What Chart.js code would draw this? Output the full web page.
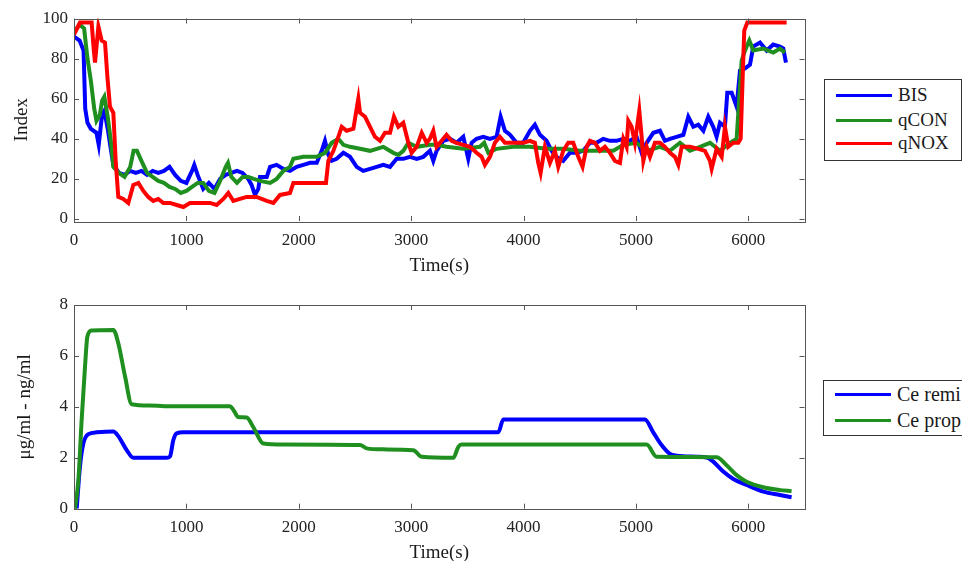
<!DOCTYPE html>
<html>
<head>
<meta charset="utf-8">
<script src="https://cdn.jsdelivr.net/npm/chart.js@4.4.1/dist/chart.umd.min.js"></script>
<style>
  body { margin: 0; background: #fff; overflow: hidden; }
  #page { position: relative; width: 962px; height: 561px; overflow: hidden; font-family: 'Liberation Serif', 'Times New Roman', serif; color: #1a1a1a; }
  canvas { position: absolute; left: 0; top: 0; }
  .legend { position: absolute; border: 1px solid #333; background: #fff; }
  .row { position: absolute; left: 0; height: 22px; white-space: nowrap; font-size: 19px; line-height: 22px; }
  .row span.sw { position: absolute; left: 11px; top: 10px; width: 56px; height: 3px; }
  .row span.tx { position: absolute; left: 73px; top: 0; }
</style>
</head>
<body>
<div id="page">
  <canvas id="topChart" width="962" height="561"></canvas>
  <canvas id="bottomChart" width="962" height="600"></canvas>

  <div class="legend" style="left:824px; top:79px; width:136px; height:80px;">
    <div class="row" style="top:4px;"><span class="sw" style="background:#0000ff"></span><span class="tx">BIS</span></div>
    <div class="row" style="top:29px;"><span class="sw" style="background:#1f8f1f"></span><span class="tx">qCON</span></div>
    <div class="row" style="top:52px;"><span class="sw" style="background:#ff0000"></span><span class="tx">qNOX</span></div>
  </div>
  <div class="legend" style="left:823px; top:380px; width:160px; height:54px;">
    <div class="row" style="top:2px; font-size:20px;"><span class="sw" style="background:#0000ff"></span><span class="tx">Ce remi</span></div>
    <div class="row" style="top:28px; font-size:20px;"><span class="sw" style="background:#1f8f1f"></span><span class="tx">Ce prop</span></div>
  </div>
</div>

<script>
// Axis ticks
const xTicks = [0, 1000, 2000, 3000, 4000, 5000, 6000];
const indexTicks = [0, 20, 40, 60, 80, 100];
const concTicks = [0, 2, 4, 6, 8];

// Top plot: BIS
const bisTime = [0, 50, 85, 100, 120, 150, 200, 220, 250, 270, 300, 330, 350, 400, 450, 500, 550, 600, 650, 700,
  750, 800, 850, 900, 950, 1000, 1050, 1070, 1100, 1150, 1200, 1250, 1300, 1350, 1400, 1450, 1500, 1550, 1580, 1610,
  1640, 1655, 1715, 1745, 1803, 1863, 1922, 1981, 2041, 2100, 2160, 2204, 2233, 2263, 2293, 2337, 2397, 2456, 2515, 2574,
  2634, 2693, 2752, 2812, 2871, 2930, 2990, 3049, 3108, 3167, 3197, 3226, 3286, 3345, 3404, 3464, 3508, 3538, 3582, 3642,
  3701, 3760, 3796, 3834, 3879, 3938, 3997, 4057, 4101, 4146, 4205, 4250, 4294, 4353, 4413, 4472, 4531, 4591, 4650, 4709,
  4769, 4828, 4888, 4947, 5006, 5051, 5095, 5155, 5214, 5258, 5303, 5362, 5422, 5466, 5511, 5555, 5600, 5644, 5688, 5718,
  5748, 5792, 5813, 5852, 5896, 5926, 5970, 6015, 6044, 6104, 6163, 6222, 6282, 6311, 6335];
const bisValue = [91, 89, 84, 55, 48, 45, 43, 37, 52, 54, 45, 34, 27, 23, 22, 24, 23, 24, 22, 24,
  23, 24, 26, 22, 19, 18, 24, 27, 22, 15, 18, 15, 20, 22, 23, 24, 23, 20, 17, 12,
  15, 21, 21, 26, 27, 25, 24, 26, 27, 28, 28, 34, 39, 32, 29, 30, 33, 31, 26, 24,
  25, 26, 27, 26, 30, 30, 31, 30, 31, 34, 29, 34, 39, 40, 38, 41, 30, 38, 40, 41,
  40, 41, 51, 44, 42, 38, 38, 44, 47, 42, 39, 34, 31, 29, 33, 33, 34, 38, 38, 40,
  39, 39, 40, 39, 41, 33, 38, 43, 44, 39, 40, 41, 42, 51, 46, 47, 44, 51, 46, 41,
  48, 46, 63, 63, 56, 74, 75, 77, 86, 88, 84, 87, 86, 85, 78];

// Top plot: qCON
const qconTime = [0, 50, 90, 120, 150, 180, 200, 230, 250, 270, 300, 330, 350, 400, 450, 500, 530, 560, 600, 650,
  700, 750, 800, 850, 900, 950, 1000, 1050, 1100, 1150, 1200, 1250, 1300, 1350, 1370, 1400, 1450, 1500, 1550, 1600,
  1655, 1745, 1803, 1863, 1922, 1952, 2041, 2160, 2233, 2293, 2352, 2397, 2456, 2545, 2634, 2752, 2841, 2886, 2930, 2975,
  3049, 3168, 3227, 3315, 3464, 3612, 3650, 3686, 3760, 3908, 4057, 4205, 4353, 4501, 4650, 4798, 4888, 5006, 5095, 5214,
  5303, 5392, 5481, 5570, 5659, 5748, 5837, 5896, 5941, 5970, 6009, 6044, 6133, 6222, 6282, 6326];
const qconValue = [93, 97, 95, 80, 69, 55, 49, 52, 59, 61, 51, 38, 26, 23, 21, 26, 34, 34, 29, 23,
  21, 19, 18, 16, 15, 13, 14, 16, 18, 18, 14, 13, 19, 26, 28, 21, 18, 21, 21, 20,
  19, 18, 20, 24, 26, 30, 31, 31, 33, 38, 40, 37, 36, 35, 34, 36, 33, 32, 34, 38,
  36, 37, 37, 36, 35, 36, 38, 33, 35, 36, 36, 35, 35, 34, 34, 34, 37, 38, 34, 36,
  34, 38, 34, 36, 38, 34, 38, 40, 79, 84, 89, 84, 85, 83, 85, 83];

// Top plot: qNOX
const qnoxTime = [0, 53, 98, 157, 175, 187, 217, 246, 276, 297, 320, 350, 371, 394, 439, 483, 528, 573, 617, 661,
  706, 750, 795, 854, 914, 973, 1032, 1091, 1151, 1210, 1269, 1329, 1373, 1418, 1477, 1536, 1625, 1715, 1774, 1833,
  1922, 1952, 2041, 2160, 2242, 2263, 2308, 2352, 2382, 2426, 2486, 2530, 2545, 2590, 2634, 2678, 2723, 2767, 2812, 2847,
  2886, 2930, 2975, 3004, 3049, 3094, 3138, 3167, 3197, 3226, 3271, 3315, 3360, 3404, 3464, 3523, 3582, 3627, 3656, 3701,
  3745, 3790, 3834, 3879, 3938, 3997, 4057, 4101, 4131, 4152, 4190, 4235, 4279, 4309, 4353, 4398, 4442, 4487, 4525, 4561,
  4591, 4635, 4680, 4724, 4769, 4813, 4858, 4888, 4917, 4932, 4962, 4991, 5030, 5051, 5066, 5095, 5125, 5169, 5214, 5258,
  5303, 5347, 5377, 5407, 5481, 5555, 5614, 5659, 5674, 5718, 5763, 5792, 5822, 5866, 5911, 5932, 5950, 5964, 5991, 6104,
  6341];
const qnoxValue = [92, 98, 98, 98, 85, 78, 96, 89, 88, 71, 56, 53, 29, 11, 10, 8, 17, 18, 14, 11,
  9, 10, 8, 8, 7, 6, 8, 8, 8, 8, 7, 10, 13, 9, 10, 11, 11, 9, 8, 12,
  13, 18, 18, 18, 18, 29, 34, 41, 46, 44, 45, 60, 53, 51, 46, 41, 39, 43, 43, 51,
  46, 48, 38, 33, 36, 43, 38, 40, 44, 36, 39, 42, 39, 38, 37, 36, 33, 31, 27, 31,
  38, 41, 38, 38, 38, 38, 39, 38, 28, 23, 36, 28, 34, 26, 34, 38, 38, 31, 26, 36,
  39, 38, 34, 36, 33, 29, 28, 40, 36, 49, 46, 38, 54, 41, 29, 36, 31, 38, 38, 36,
  33, 31, 27, 36, 36, 35, 34, 29, 25, 35, 31, 46, 36, 38, 38, 40, 71, 94, 98, 98,
  98];

// Bottom plot: effect-site concentrations
const remiTime = [24, 53, 83, 128, 202, 350, 394, 469, 528, 825, 854, 884, 913, 973, 3775, 3820, 5080, 5154, 5228, 5303,
  5362, 5540, 5629, 5688, 5777, 5866, 5985, 6133, 6281, 6385];
const remiValue = [0, 1.65, 2.56, 2.93, 3.0, 3.03, 2.85, 2.3, 2.0, 2.0, 2.05, 2.7, 2.96, 3.0, 3.0, 3.5, 3.5, 3.0, 2.5, 2.15,
  2.08, 2.04, 2.01, 1.85, 1.46, 1.17, 0.93, 0.67, 0.54, 0.45];
const propTime = [9, 39, 68, 98, 119, 157, 350, 394, 454, 513, 676, 884, 1388, 1418, 1462, 1536, 1596, 1685, 1863, 2545,
  2604, 2752, 3019, 3094, 3375, 3420, 3449, 5095, 5184, 5718, 5807, 5896, 5985, 6133, 6281, 6385];
const propValue = [0, 1.13, 3.48, 5.58, 6.76, 7.0, 7.02, 6.5, 5.2, 4.1, 4.05, 4.02, 4.02, 3.88, 3.6, 3.58, 3.2, 2.56, 2.52, 2.5,
  2.37, 2.33, 2.3, 2.04, 2.0, 2.43, 2.52, 2.52, 2.04, 2.02, 1.71, 1.32, 1.06, 0.84, 0.73, 0.69];

const BLUE = '#0000ff';
const GREEN = '#1f8f1f';
const RED = '#ff0000';
const FONT = "'Liberation Serif', 'Times New Roman', serif";

function pairs(xs, ys) {
  return xs.map((t, i) => ({ x: t, y: ys[i] }));
}

// MATLAB style box with inward ticks on all four sides
const boxTicks = {
  id: 'boxTicks',
  afterDraw(chart) {
    const { ctx, chartArea: a, scales: { x, y } } = chart;
    ctx.save();
    ctx.strokeStyle = '#555';
    ctx.lineWidth = 1;
    ctx.strokeRect(Math.round(a.left) + 0.5, Math.round(a.top) + 0.5, Math.round(a.width), Math.round(a.height));
    ctx.beginPath();
    x.ticks.forEach(t => {
      const px = Math.round(x.getPixelForValue(t.value)) + 0.5;
      ctx.moveTo(px, a.bottom); ctx.lineTo(px, a.bottom - 5);
      ctx.moveTo(px, a.top); ctx.lineTo(px, a.top + 5);
    });
    y.ticks.forEach(t => {
      const py = Math.round(y.getPixelForValue(t.value)) + 0.5;
      ctx.moveTo(a.left, py); ctx.lineTo(a.left + 5, py);
      ctx.moveTo(a.right, py); ctx.lineTo(a.right - 5, py);
    });
    ctx.stroke();
    ctx.restore();
  }
};

function makeChart(id, datasets, opts) {
  return new Chart(document.getElementById(id), {
    type: 'line',
    data: { datasets },
    options: {
      responsive: false,
      animation: false,
      devicePixelRatio: 1,
      layout: { padding: opts.padding },
      elements: { point: { radius: 0 }, line: { borderWidth: 4, tension: 0 } },
      plugins: { legend: { display: false }, tooltip: { enabled: false } },
      scales: {
        x: {
          type: 'linear',
          min: 0,
          max: 6500,
          grid: { display: false, drawTicks: false },
          border: { display: false },
          afterBuildTicks: s => { s.ticks = xTicks.map(v => ({ value: v })); },
          afterFit: s => { s.height = 60; },
          ticks: { padding: 9, color: '#222', font: { family: FONT, size: 17 }, callback: v => String(v) },
          title: { display: true, text: 'Time(s)', color: '#1a1a1a', padding: { top: 0, bottom: opts.xTitlePad }, font: { family: FONT, size: 19 } }
        },
        y: {
          min: opts.yMin,
          max: opts.yMax,
          grid: { display: false, drawTicks: false },
          border: { display: false },
          afterBuildTicks: s => { s.ticks = opts.yTicks.map(v => ({ value: v })); },
          afterFit: s => { s.width = 74; },
          ticks: { padding: 6, color: '#222', font: { family: FONT, size: 17 }, callback: v => String(v) },
          title: { display: true, text: opts.yTitle, color: '#1a1a1a', padding: { top: opts.yTitlePad, bottom: 0 }, font: { family: FONT, size: 19 } }
        }
      }
    },
    plugins: [boxTicks]
  });
}

makeChart('topChart', [
  { label: 'BIS', data: pairs(bisTime, bisValue), borderColor: BLUE, order: 3 },
  { label: 'qCON', data: pairs(qconTime, qconValue), borderColor: GREEN, order: 2 },
  { label: 'qNOX', data: pairs(qnoxTime, qnoxValue), borderColor: RED, order: 1 }
], {
  padding: { left: 0, top: 18.5, right: 157.5, bottom: 280 },
  yMin: -1, yMax: 100, yTicks: indexTicks, yTitle: 'Index', yTitlePad: 10.5, xTitlePad: 3.6
});

makeChart('bottomChart', [
  { label: 'Ce remi', data: pairs(remiTime, remiValue), borderColor: BLUE, order: 2, cubicInterpolationMode: 'monotone' },
  { label: 'Ce prop', data: pairs(propTime, propValue), borderColor: GREEN, order: 1, cubicInterpolationMode: 'monotone' }
], {
  padding: { left: 0, top: 305, right: 157.5, bottom: 31.3 },
  yMin: 0, yMax: 8, yTicks: concTicks, yTitle: 'μg/ml - ng/ml', yTitlePad: 14, xTitlePad: 4.3
});
</script>
</body>
</html>
